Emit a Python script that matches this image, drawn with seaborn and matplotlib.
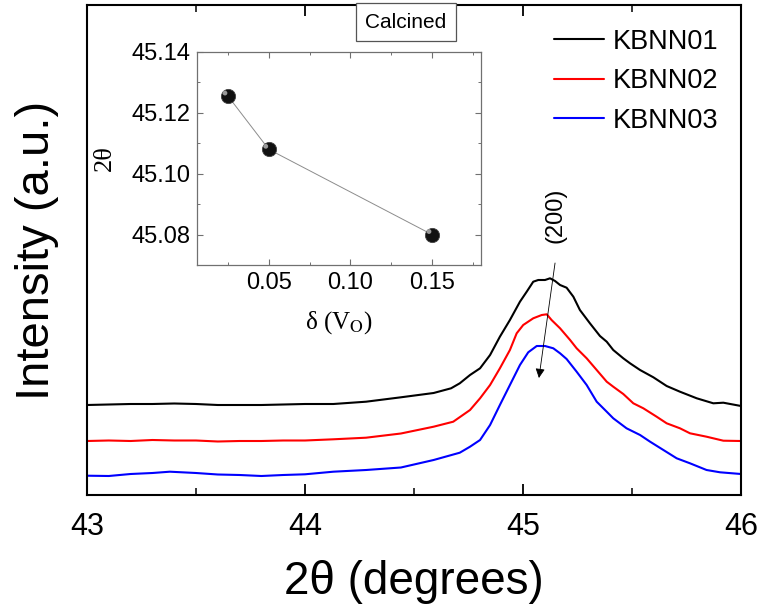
import numpy as np
import pandas as pd
import matplotlib
matplotlib.use("Agg")
import matplotlib.pyplot as plt
from matplotlib.ticker import MultipleLocator
from matplotlib.transforms import offset_copy
import seaborn as sns

# ---------------- data ----------------
x_kbnn01 = [43.00, 43.10, 43.20, 43.30, 43.40, 43.50, 43.60, 43.70, 43.80, 43.90, 44.00,
            44.13, 44.28, 44.44, 44.59, 44.67, 44.71, 44.757, 44.803, 44.849, 44.894, 44.940,
            44.986, 45.017, 45.047, 45.070, 45.101, 45.124, 45.147, 45.170, 45.200,
            45.231, 45.261, 45.307, 45.353, 45.384, 45.414, 45.460, 45.491, 45.537,
            45.598, 45.659, 45.720, 45.797, 45.873, 45.919, 46.00]
y_kbnn01 = [90, 90.5, 91, 91, 91.5, 91, 90, 90, 90, 90.5, 91,
            91, 93.3, 97.7, 102, 106.7, 111.7, 120, 126.7, 140, 158.3, 175,
            193.3, 203.3, 213.3, 215, 215, 216.7, 214, 210, 207.3,
            198.3, 185, 171.7, 159, 153.3, 145, 136.7, 131.7, 125,
            117.7, 109, 103.3, 96.7, 91.7, 92.3, 89]

x_kbnn02 = [43.00, 43.10, 43.20, 43.30, 43.40, 43.50, 43.60, 43.70, 43.80, 43.90, 44.00,
            44.13, 44.28, 44.44, 44.59, 44.68, 44.757, 44.803, 44.849, 44.894, 44.940,
            44.971, 45.001, 45.047, 45.086, 45.109, 45.131, 45.170, 45.216, 45.246,
            45.292, 45.338, 45.384, 45.414, 45.460, 45.506, 45.552, 45.613, 45.659,
            45.720, 45.766, 45.842, 45.919, 46.00]
y_kbnn02 = [54, 54.5, 54, 55, 54.5, 54.5, 53.5, 54, 54, 54.5, 54.5,
            55.7, 57.3, 61.5, 68.3, 73.3, 85, 96.7, 110, 126.7, 145,
            161.7, 170, 176.7, 180, 180.7, 175, 166.7, 155, 146.7,
            136.7, 125, 113.3, 108.3, 101, 91.7, 86.7, 78.3, 71.7,
            66.7, 61.7, 58.3, 54.3, 54]

x_kbnn03 = [43.00, 43.10, 43.20, 43.30, 43.38, 43.50, 43.60, 43.70, 43.80, 43.90, 44.00,
            44.13, 44.28, 44.44, 44.59, 44.71, 44.757, 44.803, 44.849, 44.894, 44.940,
            44.986, 45.024, 45.063, 45.101, 45.139, 45.170, 45.200, 45.246, 45.292,
            45.338, 45.384, 45.414, 45.475, 45.537, 45.583, 45.644, 45.705, 45.766,
            45.842, 45.904, 46.00]
y_kbnn03 = [19.3, 19, 21, 22, 23.3, 22, 20.5, 20, 19, 20, 20.7,
            23.3, 25, 27.5, 35, 42.3, 48.3, 55, 70, 90, 110,
            130, 142.7, 149, 149, 146.7, 141.7, 136, 123.3, 110,
            93.3, 83.3, 76.7, 66.7, 60, 53.3, 45, 36.7, 31.7,
            25, 22.7, 21]

series_names = ["KBNN01", "KBNN02", "KBNN03"]
series_colors = ["#000000", "#ff0000", "#0000ff"]

inset_delta = [0.025, 0.05, 0.15]
inset_2theta = [45.1255, 45.108, 45.080]

x_ticks = [43, 44, 45, 46]
inset_xticks = [0.05, 0.10, 0.15]
inset_yticks = [45.08, 45.10, 45.12, 45.14]

# ---------------- style ----------------
sns.set_theme(style="ticks")
plt.rcParams["font.family"] = ["Liberation Sans", "DejaVu Sans"]
plt.rcParams["mathtext.fontset"] = "stix"
for key in ["text.color", "axes.labelcolor", "xtick.color", "ytick.color"]:
    plt.rcParams[key] = "black"

df = pd.concat([
    pd.DataFrame({"two_theta": x_kbnn01, "intensity": y_kbnn01, "sample": series_names[0]}),
    pd.DataFrame({"two_theta": x_kbnn02, "intensity": y_kbnn02, "sample": series_names[1]}),
    pd.DataFrame({"two_theta": x_kbnn03, "intensity": y_kbnn03, "sample": series_names[2]}),
], ignore_index=True)

fig = plt.figure(figsize=(7.61, 6.07), dpi=100)
ax = fig.add_axes([87 / 761, 1 - 495 / 607, 654 / 761, 490 / 607])

sns.lineplot(data=df, x="two_theta", y="intensity", hue="sample",
             palette=dict(zip(series_names, series_colors)), estimator=None,
             sort=True, linewidth=1.5, ax=ax)

ax.set_xlim(43, 46)
ax.set_ylim(0, 490)
ax.set_xticks(x_ticks)
ax.set_xticklabels([str(t) for t in x_ticks])
ax.xaxis.set_minor_locator(MultipleLocator(0.5))
ax.set_yticks([])
ax.tick_params(axis="x", which="major", direction="in", length=8, width=1.3,
               top=True, labelsize=22, pad=12)
ax.tick_params(axis="x", which="minor", direction="in", length=5, width=1.1, top=True)
for sp in ax.spines.values():
    sp.set_linewidth(1.5)
    sp.set_color("black")

ax.set_xlabel("2θ (degrees)", fontsize=33, labelpad=13)
ax.set_ylabel("Intensity (a.u.)", fontsize=34, labelpad=20)

leg = ax.legend(loc="upper right", bbox_to_anchor=(0.99, 0.985), frameon=False,
                fontsize=19.5, handlelength=1.85, handletextpad=0.3,
                labelspacing=0.5, borderaxespad=0.2)
for line in leg.get_lines():
    line.set_linewidth(1.5)

ax.annotate("", xy=(45.073, 117), xytext=(45.147, 232),
            arrowprops=dict(arrowstyle="-|>", color="black", lw=0.6,
                            mutation_scale=14, shrinkA=0, shrinkB=0))
ax.text(45.151, 280, "(200)", rotation=90, ha="center", va="center", fontsize=17)

# ---------------- inset ----------------
axi = fig.add_axes([197 / 761, 1 - 265 / 607, 284 / 761, 213 / 607])
inset_df = pd.DataFrame({"delta": inset_delta, "tt": inset_2theta})
sns.lineplot(data=inset_df, x="delta", y="tt", color="#8c8c8c", linewidth=0.7,
             estimator=None, ax=axi)
sns.scatterplot(data=inset_df, x="delta", y="tt", color="#111111", s=105,
                edgecolor="#444444", linewidth=0.6, zorder=3, ax=axi)
# small highlight to mimic the shaded spheres
hl = offset_copy(axi.transData, fig=fig, x=-2.2, y=2.2, units="points")
axi.scatter(inset_delta, inset_2theta, s=12, color="#9a9a9a", edgecolor="none",
            zorder=4, transform=hl)
axi.set_xlim(0.006, 0.180)
axi.set_ylim(45.07, 45.14)
axi.set_xticks(inset_xticks)
axi.set_xticklabels(["0.05", "0.10", "0.15"])
axi.set_yticks(inset_yticks)
axi.set_yticklabels(["45.08", "45.10", "45.12", "45.14"])
axi.xaxis.set_minor_locator(MultipleLocator(0.025))
axi.yaxis.set_minor_locator(MultipleLocator(0.01))
axi.tick_params(which="both", direction="in", top=True, right=True,
                color="#707070", labelsize=17)
axi.tick_params(which="major", length=4, width=0.8, pad=5)
axi.tick_params(which="minor", length=2.5, width=0.7)
for sp in axi.spines.values():
    sp.set_linewidth(0.9)
    sp.set_color("#707070")
axi.set_xlabel("δ (V$_\\mathrm{O}$)", fontsize=18,
               family=["Liberation Serif", "DejaVu Serif"], labelpad=11)
axi.set_ylabel("2θ", fontsize=19, family=["Liberation Serif", "DejaVu Serif"], labelpad=11)

fig.text(406 / 761, 1 - 22 / 607, "Calcined", ha="center", va="center", fontsize=15,
         bbox=dict(boxstyle="square,pad=0.45", facecolor="white", edgecolor="#555555",
                   linewidth=0.9))

fig.savefig("out.png", dpi=100)
